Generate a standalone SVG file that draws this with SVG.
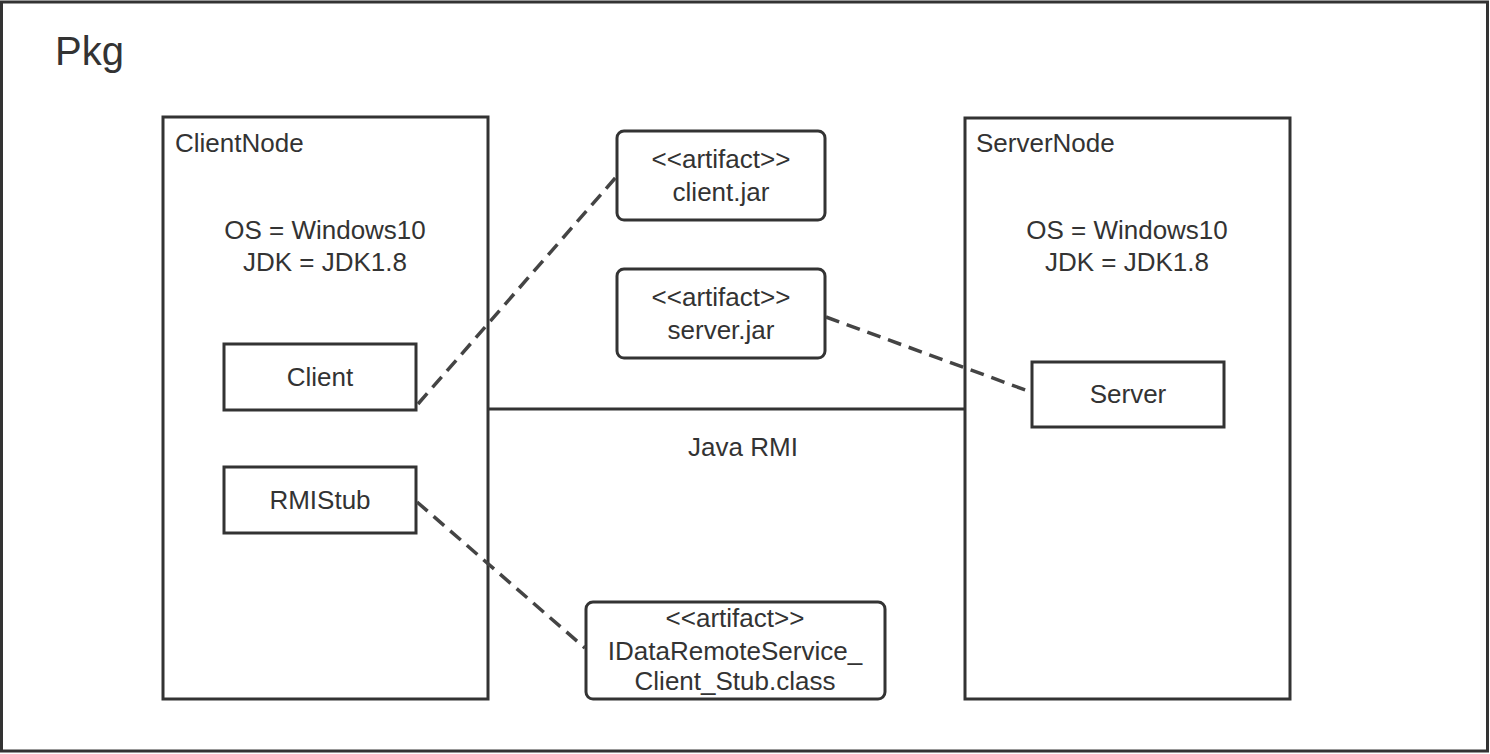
<svg xmlns="http://www.w3.org/2000/svg" width="1490" height="754" viewBox="0 0 1490 754">
  <style>
    .box { fill: #ffffff; stroke: #333333; stroke-width: 3; }
    .t { font-family: "Liberation Sans", Arial, sans-serif; font-size: 26px; fill: #333333; }
    .c { text-anchor: middle; }
    .dash { fill: none; stroke: #444444; stroke-width: 3.5; stroke-dasharray: 14 8; }
    .solid { fill: none; stroke: #333333; stroke-width: 3; }
  </style>
  <rect x="0" y="0" width="1490" height="754" fill="#ffffff"/>
  <g id="pkg">
    <rect class="box" x="1.5" y="2" width="1486" height="749"/>
    <text class="t" x="55" y="65" style="font-size:40px">Pkg</text>
  </g>
  <g id="clientnode">
    <rect class="box" x="163" y="117" width="325" height="582"/>
    <text class="t" x="175" y="152">ClientNode</text>
    <text class="t c" x="325" y="239">OS = Windows10</text>
    <text class="t c" x="325" y="271">JDK = JDK1.8</text>
  </g>
  <g id="servernode">
    <rect class="box" x="965" y="118" width="325" height="581"/>
    <text class="t" x="976" y="152">ServerNode</text>
    <text class="t c" x="1127" y="239">OS = Windows10</text>
    <text class="t c" x="1127" y="271">JDK = JDK1.8</text>
  </g>
  <g id="client">
    <rect class="box" x="224" y="344" width="192" height="66"/>
    <text class="t c" x="320" y="386">Client</text>
  </g>
  <g id="rmistub">
    <rect class="box" x="224" y="467" width="192" height="66"/>
    <text class="t c" x="320" y="509">RMIStub</text>
  </g>
  <g id="server">
    <rect class="box" x="1032" y="362" width="192" height="65"/>
    <text class="t c" x="1128" y="403">Server</text>
  </g>
  <g id="clientjar">
    <rect class="box" x="617" y="131" width="208" height="89" rx="7"/>
    <text class="t c" x="721" y="168">&lt;&lt;artifact&gt;&gt;</text>
    <text class="t c" x="721" y="201">client.jar</text>
  </g>
  <g id="serverjar">
    <rect class="box" x="617" y="269" width="208" height="89" rx="7"/>
    <text class="t c" x="721" y="306">&lt;&lt;artifact&gt;&gt;</text>
    <text class="t c" x="721" y="339">server.jar</text>
  </g>
  <g id="stubclass">
    <rect class="box" x="586" y="602" width="299" height="97" rx="7"/>
    <text class="t c" x="735" y="627">&lt;&lt;artifact&gt;&gt;</text>
    <text class="t c" x="735" y="660">IDataRemoteService_</text>
    <text class="t c" x="735" y="690">Client_Stub.class</text>
  </g>
  <g id="connectors">
    <line class="solid" x1="488" y1="409" x2="965" y2="409"/>
    <text class="t c" x="743" y="456">Java RMI</text>
    <line class="dash" x1="418" y1="404" x2="617" y2="176"/>
    <line class="dash" x1="826" y1="317" x2="1031" y2="392"/>
    <line class="dash" x1="417" y1="502" x2="585" y2="648"/>
  </g>
</svg>
